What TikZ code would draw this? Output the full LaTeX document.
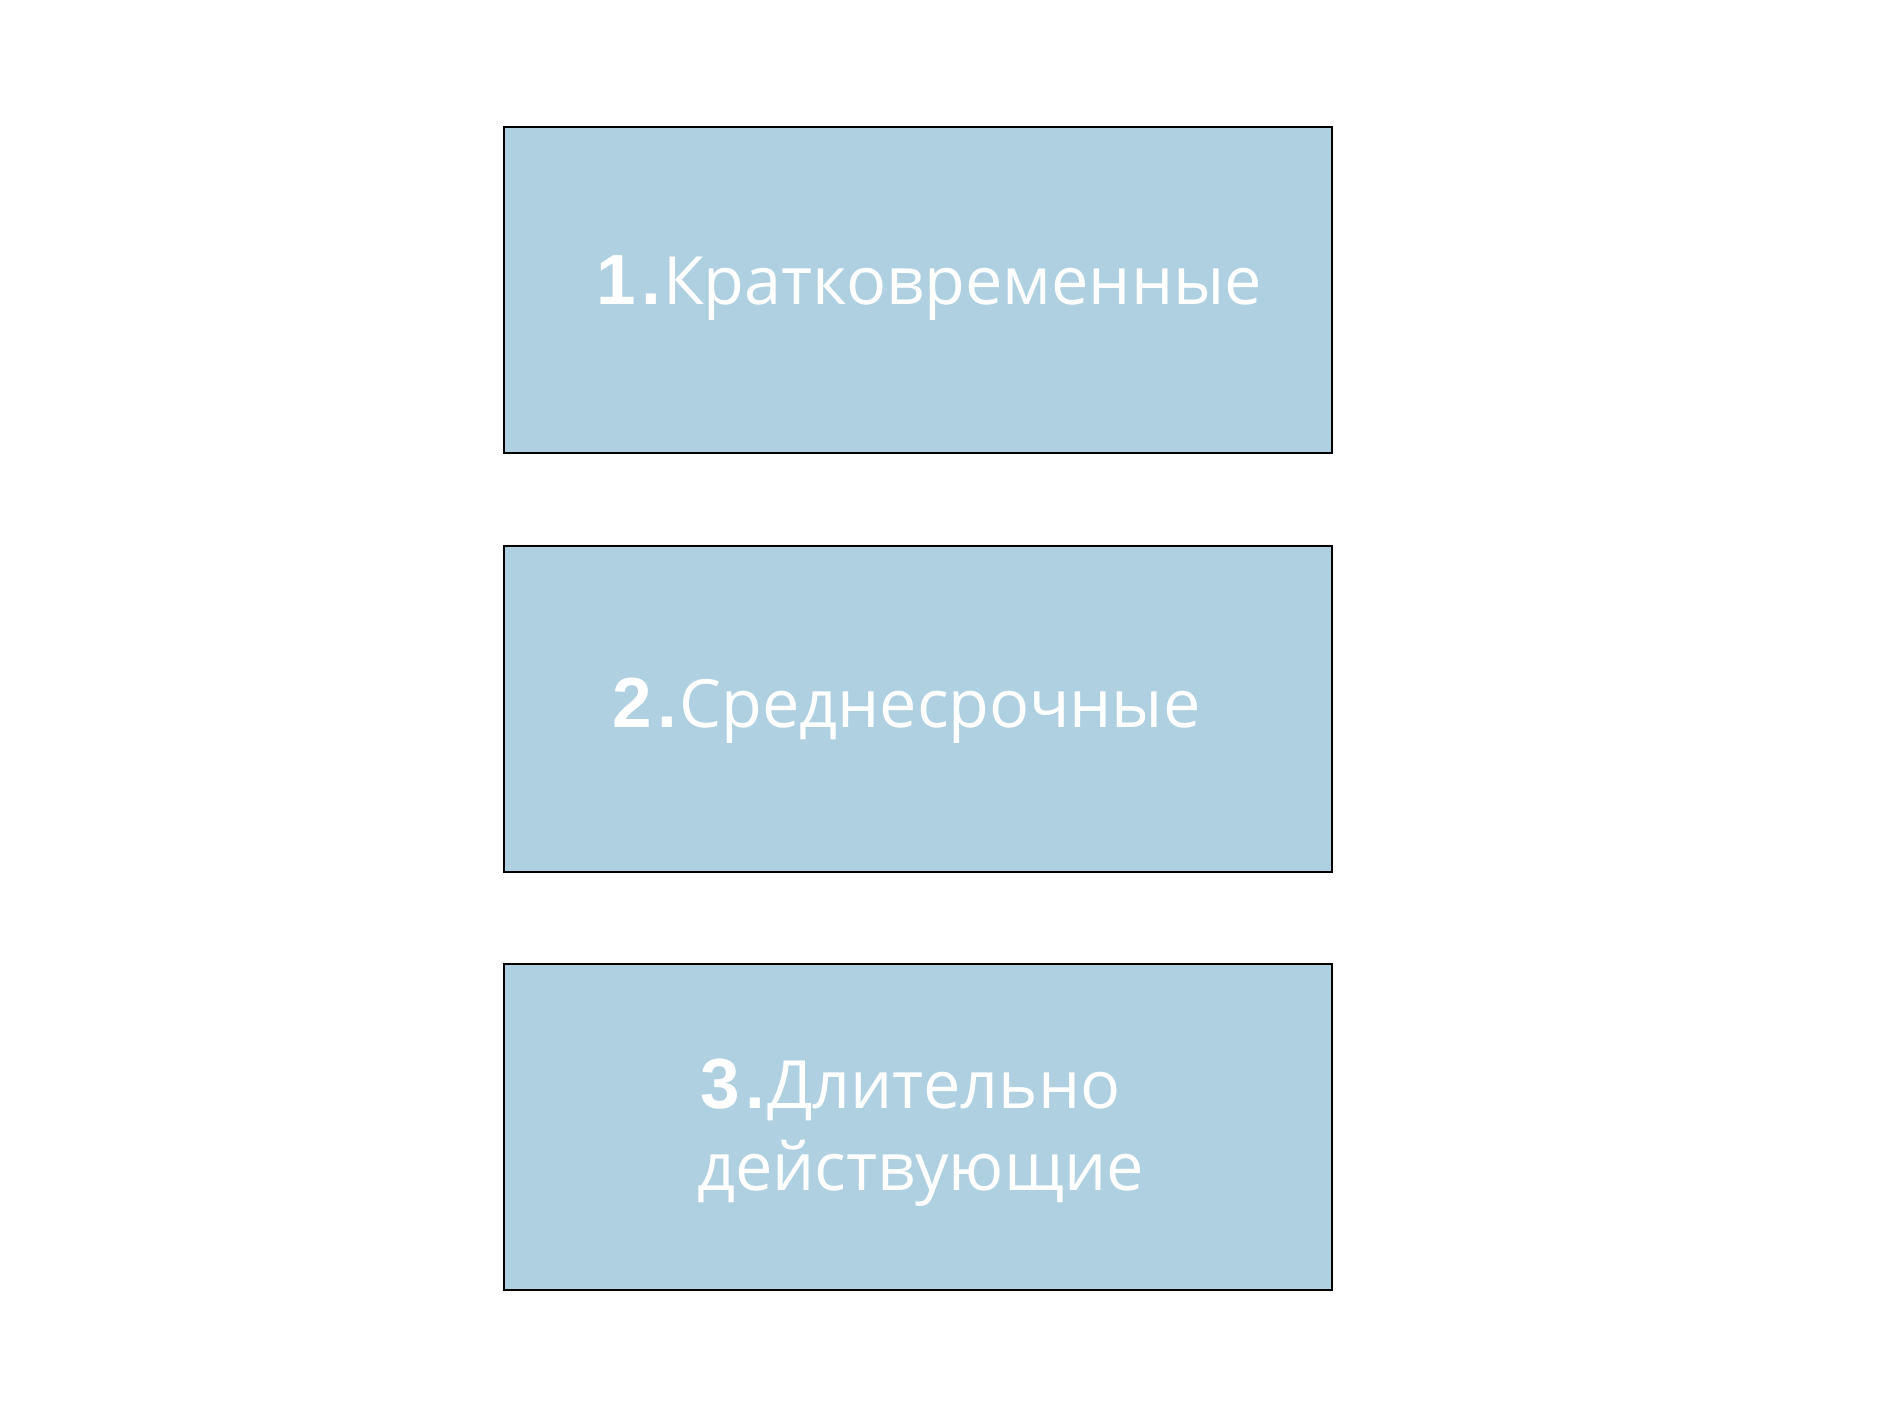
\documentclass[tikz,border=0pt]{standalone}
\usepackage{fontspec}
\setmainfont{Open Sans}
\newfontfamily\digitfont{Liberation Sans}
\definecolor{boxblue}{RGB}{175,208,225}
\tikzset{
  catbox/.style={draw=black, line width=0.8pt, fill=boxblue, minimum width=414pt, minimum height=163pt, inner sep=0pt, outer sep=0pt},
  cattext/.style={anchor=base west, inner sep=0pt, outer sep=0pt, text=white, font=\fontsize{33.3}{40}\selectfont}
}
\newcommand{\numlbl}[1]{{\digitfont\bfseries\fontsize{35.5}{40}\selectfont #1\kern3pt.\kern1pt}}
\begin{document}
\begin{tikzpicture}[x=0.5pt,y=-0.5pt]
\useasboundingbox[fill=white] (0,0) rectangle (1890,1417);
\node[catbox] (b1) at (918,290) {};
\node[catbox] (b2) at (918,709) {};
\node[catbox] (b3) at (918,1127) {};
\node[cattext] (t1) at (596,305) {\numlbl{1}Кратковременные};
\node[cattext] (t2) at (612,727) {\numlbl{2}Среднесрочные};
\node[cattext] (t3a) at (700,1108) {\numlbl{3}Длительно};
\node[cattext] (t3b) at (697,1190) {действующие};
\end{tikzpicture}
\end{document}
